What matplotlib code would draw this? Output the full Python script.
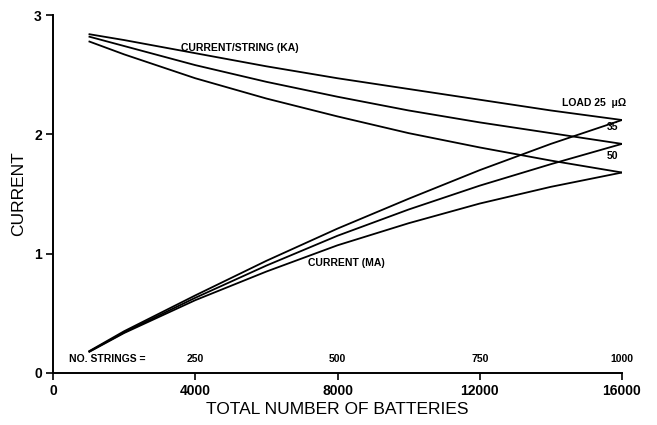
import matplotlib
matplotlib.use("Agg")
import matplotlib.pyplot as plt

# total number of batteries (x) for every curve
batteries = [1000, 2000, 4000, 6000, 8000, 10000, 12000, 14000, 16000]

# current per string (kA), falling curves, one per load resistance
kA_25 = [2.84, 2.79, 2.68, 2.57, 2.47, 2.38, 2.29, 2.20, 2.12]
kA_35 = [2.82, 2.74, 2.58, 2.44, 2.315, 2.20, 2.10, 2.01, 1.92]
kA_50 = [2.78, 2.67, 2.47, 2.30, 2.15, 2.01, 1.89, 1.78, 1.68]

# total current (MA), rising curves
MA_25 = [0.18, 0.35, 0.65, 0.94, 1.21, 1.46, 1.70, 1.92, 2.12]
MA_35 = [0.177, 0.34, 0.63, 0.90, 1.15, 1.37, 1.57, 1.75, 1.92]
MA_50 = [0.174, 0.335, 0.61, 0.85, 1.07, 1.255, 1.42, 1.56, 1.68]

x_ticks = [0, 4000, 8000, 12000, 16000]
y_ticks = [0, 1, 2, 3]
strings_x = [4000, 8000, 12000, 16000]
strings_lbl = ["250", "500", "750", "1000"]

plt.rcParams['font.family'] = ['Liberation Sans', 'DejaVu Sans']
small = dict(family=['Liberation Sans Narrow', 'Liberation Sans', 'DejaVu Sans'],
             fontsize=7.5, fontweight='bold')

fig = plt.figure(figsize=(6.57, 4.25), dpi=100)
ax = fig.add_axes([0.0807, 0.1224, 0.866, 0.8423])

for ys in (kA_25, kA_35, kA_50, MA_25, MA_35, MA_50):
    ax.plot(batteries, ys, color='black', lw=1.3, solid_capstyle='butt')

ax.set_xlim(0, 16000)
ax.set_ylim(0, 3)
ax.set_xticks(x_ticks)
ax.set_yticks(y_ticks)
for s in ('top', 'right'):
    ax.spines[s].set_visible(False)
for s in ('left', 'bottom'):
    ax.spines[s].set_linewidth(1.4)
ax.tick_params(direction='out', length=5, width=1.2, labelsize=10, pad=3)
for lbl in ax.get_xticklabels() + ax.get_yticklabels():
    lbl.set_fontweight('bold')

ax.set_xlabel("TOTAL NUMBER OF BATTERIES", fontsize=12.5, labelpad=3)
ax.set_ylabel("CURRENT", fontsize=12.5, labelpad=6)

# annotations
ax.text(3600, 2.72, "CURRENT/STRING (KA)", va='center', ha='left', **small)
ax.text(7170, 0.92, "CURRENT (MA)", va='center', ha='left', **small)
ax.text(14300, 2.26, "LOAD 25  \u03bc\u03a9", va='center', ha='left', **small)
ax.text(15720, 2.06, "35", va='center', ha='center', **small)
ax.text(15720, 1.82, "50", va='center', ha='center', **small)
ax.text(450, 0.115, "NO. STRINGS =", va='center', ha='left', **small)
for xs, lbl in zip(strings_x, strings_lbl):
    ax.text(xs, 0.115, lbl, va='center', ha='center', **small)

fig.savefig("out.png", dpi=100)
